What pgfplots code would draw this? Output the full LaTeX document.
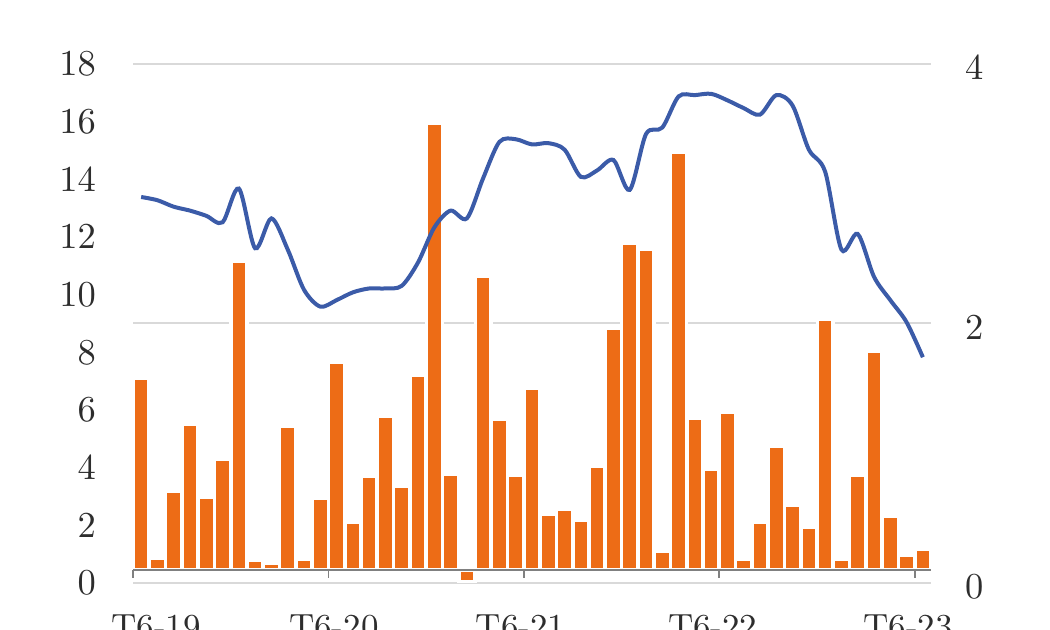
\documentclass[border=0pt]{standalone}
\usepackage{pgfplots}
\pgfplotsset{compat=1.18}
\definecolor{barorange}{RGB}{237,108,22}
\definecolor{lineblue}{RGB}{59,91,168}
\definecolor{gridgray}{RGB}{217,217,217}
\definecolor{axisgray}{RGB}{128,128,128}
\definecolor{labelgray}{RGB}{45,45,45}
\begin{document}
\begin{tikzpicture}
\pgfplotsset{
  base/.style={scale only axis, width=239.4pt, height=155.7pt,
    at={(39.9pt,14.1pt)}, anchor=south west, xmin=-0.5, xmax=48.5,
    tick label style={font=\fontsize{10.5}{12}\selectfont, text=labelgray}},
}
% left labels, x labels and grid
\begin{axis}[base, ymin=0, ymax=18, ytick={0,2,...,18},
  axis x line*=bottom, axis y line*=left,
  x axis line style={draw=none}, y axis line style={draw=none},
  major tick style={draw=none}, major tick length=0pt,
  xtick={0.91,11.83,23.3,35.1,47.1},
  xticklabels={T6-19,T6-20,T6-21,T6-22,T6-23},
  xticklabel style={yshift=-6pt},
  yticklabel style={xshift=-7.6pt},
  extra y ticks={0,9,18}, extra y tick labels={,,},
  extra y tick style={grid=major, major grid style={gridgray, line width=0.6pt}, major tick length=0pt}]
\end{axis}
% bars
\begin{axis}[base, ymin=-0.451, ymax=17.549,
  axis y line=none, axis x line=middle, axis on top,
  x axis line style={-, axisgray, line width=0.6pt},
  xtick={-0.5,11.5,23.5,35.5,47.5}, xticklabel=\empty,
  tick align=outside, major tick length=2.4pt,
  xtick style={axisgray, line width=0.5pt},
  ybar, bar width=0.98]
\addplot[fill=barorange, draw=white, line width=1pt] coordinates {
(0,6.65) (1,0.41) (2,2.72) (3,5.05) (4,2.52) (5,3.85) (6,10.69) (7,0.35)
(8,0.23) (9,4.99) (10,0.38) (11,2.50) (12,7.20) (13,1.64) (14,3.24) (15,5.32)
(16,2.89) (17,6.74) (18,15.49) (19,3.32) (20,-0.41) (21,10.20) (22,5.23) (23,3.30)
(24,6.30) (25,1.93) (26,2.12) (27,1.71) (28,3.58) (29,8.38) (30,11.33) (31,11.12)
(32,0.63) (33,14.47) (34,5.26) (35,3.50) (36,5.48) (37,0.38) (38,1.65) (39,4.30)
(40,2.23) (41,1.48) (42,8.70) (43,0.37) (44,3.30) (45,7.57) (46,1.87) (47,0.52)
(48,0.73)};
\end{axis}
% line on right axis
\begin{axis}[base, ymin=0, ymax=4, ytick={0,2,4},
  axis y line*=right, axis x line=none,
  y axis line style={draw=none}, major tick style={draw=none}, major tick length=0pt,
  yticklabel style={xshift=6.7pt, yshift=-1.2pt}]
\addplot[lineblue, line width=1.2pt, smooth, no markers] coordinates {
(0,2.975) (1,2.95) (2,2.90) (3,2.87) (4,2.83) (5,2.78) (6,3.04) (7,2.58)
(8,2.81) (9,2.57) (10,2.26) (11,2.13) (12,2.18) (13,2.24) (14,2.27) (15,2.27)
(16,2.29) (17,2.47) (18,2.74) (19,2.87) (20,2.81) (21,3.12) (22,3.40) (23,3.42)
(24,3.38) (25,3.39) (26,3.34) (27,3.13) (28,3.18) (29,3.26) (30,3.03) (31,3.46)
(32,3.51) (33,3.75) (34,3.76) (35,3.77) (36,3.72) (37,3.66) (38,3.61) (39,3.76)
(40,3.68) (41,3.34) (42,3.17) (43,2.57) (44,2.69) (45,2.36) (46,2.18) (47,2.01)
(48,1.74)};
\end{axis}
\pgfresetboundingbox
\path[use as bounding box] (0,0) rectangle (315pt,189pt);
\end{tikzpicture}
\end{document}
